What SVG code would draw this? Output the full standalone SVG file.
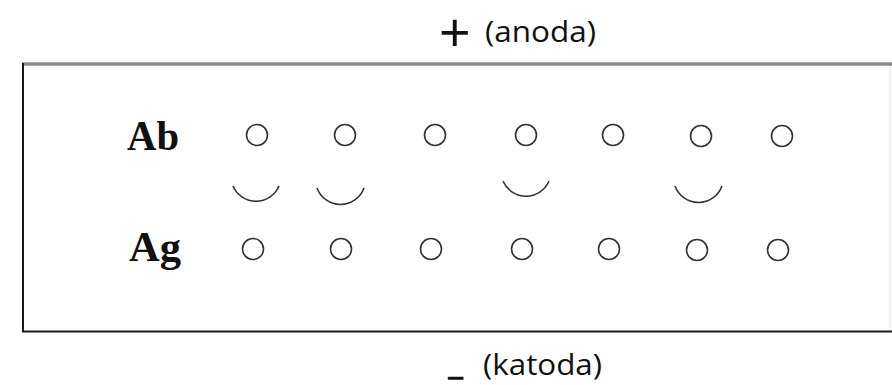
<svg xmlns="http://www.w3.org/2000/svg" width="892" height="385" viewBox="0 0 892 385">
<style>
.lbl{font-family:"Liberation Serif","Times New Roman",serif;font-weight:bold;font-size:43px;fill:#111}
.pole{font-family:"Open Sans","Liberation Sans",sans-serif;font-size:29px;fill:#111}
.dot{fill:none;stroke:#333;stroke-width:1.6}
.arc{fill:none;stroke:#333;stroke-width:1.6}
</style>
<rect width="892" height="385" fill="#fff"/>
<g id="frame">
<line x1="22" y1="64" x2="892" y2="64" stroke="#8a8a8a" stroke-width="3.5"/>
<line x1="23" y1="63" x2="23" y2="332" stroke="#1a1a1a" stroke-width="2"/>
<line x1="22" y1="331.5" x2="892" y2="331.5" stroke="#1a1a1a" stroke-width="2.2"/>
<line x1="890" y1="66" x2="890" y2="330" stroke="#e4e4e4" stroke-width="1"/>
</g>
<g id="anode">
<text x="439" y="51" style="font-size:54px;font-family:'Liberation Sans',sans-serif;fill:#111">+</text>
<text class="pole" x="485" y="42" textLength="111" lengthAdjust="spacingAndGlyphs">(anoda)</text>
</g>
<g id="cathode">
<text x="449" y="374" style="font-family:'Liberation Sans',sans-serif;font-size:24px;fill:#111;stroke:#111;stroke-width:1.6">_</text>
<text class="pole" x="483" y="375" textLength="119" lengthAdjust="spacingAndGlyphs">(katoda)</text>
</g>
<g id="label-ab"><text class="lbl" x="127" y="150" textLength="52" lengthAdjust="spacingAndGlyphs">Ab</text></g>
<g id="label-ag"><text class="lbl" x="129" y="261" textLength="52" lengthAdjust="spacingAndGlyphs">Ag</text></g>
<g id="ab-row">
<circle class="dot" cx="257" cy="135" r="10.5"/>
<circle class="dot" cx="345" cy="135" r="10.5"/>
<circle class="dot" cx="435" cy="135" r="10.5"/>
<circle class="dot" cx="526" cy="135" r="10.5"/>
<circle class="dot" cx="613" cy="135" r="10.5"/>
<circle class="dot" cx="701" cy="136" r="10.5"/>
<circle class="dot" cx="782" cy="136" r="10.5"/>
</g>
<g id="ag-row">
<circle class="dot" cx="253" cy="249" r="10.5"/>
<circle class="dot" cx="341" cy="249" r="10.5"/>
<circle class="dot" cx="431" cy="249" r="10.5"/>
<circle class="dot" cx="522" cy="249" r="10.5"/>
<circle class="dot" cx="609" cy="249" r="10.5"/>
<circle class="dot" cx="697" cy="250" r="10.5"/>
<circle class="dot" cx="778" cy="250" r="10.5"/>
</g>
<g id="connectors">
<path class="arc" d="M233 186 A25 25 0 0 0 279 186"/>
<path class="arc" d="M317 188 A25 25 0 0 0 364 188"/>
<path class="arc" d="M503 181 A25 25 0 0 0 549 181"/>
<path class="arc" d="M675 186 A25 25 0 0 0 722 186"/>
</g>
</svg>
